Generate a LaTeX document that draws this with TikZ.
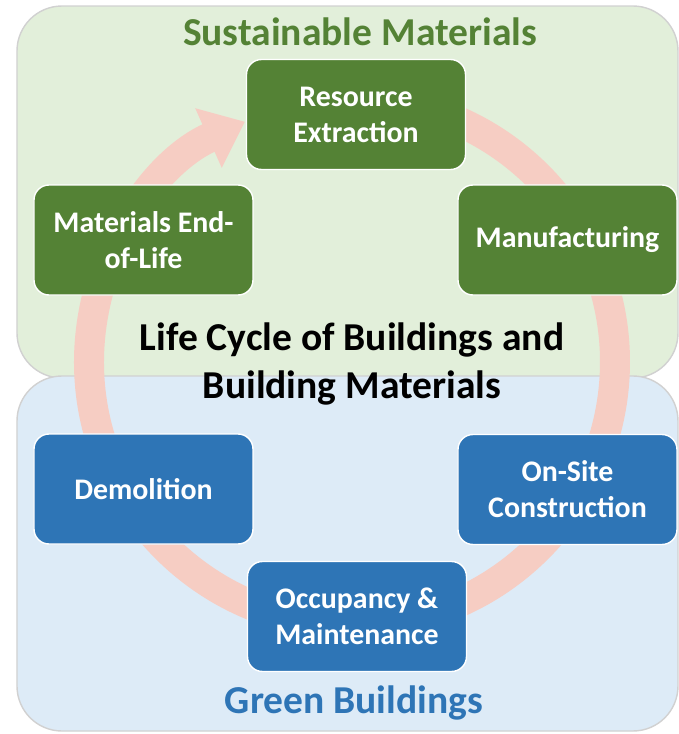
\documentclass[tikz,border=0pt]{standalone}
\usepackage{fontspec}
\setmainfont{Carlito}
\usepackage{tikz}
\usetikzlibrary{arrows.meta, positioning}

\definecolor{matgreen}{HTML}{548235}
\definecolor{matpanel}{HTML}{E2EFDA}
\definecolor{bldblue}{HTML}{2E75B6}
\definecolor{bldpanel}{HTML}{DDEBF7}
\definecolor{ringpink}{HTML}{F6CDC3}

\begin{document}
\begin{tikzpicture}[
    stage/.style={draw=white, line width=0.8pt, rounded corners=0.3cm,
                  minimum width=4.38cm, minimum height=2.2cm, text=white,
                  font=\fontsize{17}{20.5}\selectfont\bfseries, align=center, fill=#1},
    panel/.style={draw=black!18, line width=0.8pt, rounded corners=0.9cm, fill=#1},
    heading/.style={font=\fontsize{22.5}{27}\selectfont\bfseries, text=#1, align=center},
    ringarrow/.style={line width=0.6cm, color=ringpink,
                      -{Triangle[length=0.8cm, width=1.25cm]}}
]
\useasboundingbox (-7.04,-7.44) rectangle (6.54,7.24);

% Background panels
\draw[panel=matpanel] (-6.70,-0.32) rectangle (6.52,7.12);
\draw[panel=bldpanel] (-6.70,-7.38) rectangle (6.52,-0.28);

% Life cycle ring
\coordinate (ringstart) at (88:5.26);
\draw[ringarrow] (ringstart) arc[start angle=88, end angle=-246, radius=5.26];

% Material stages
\node[stage=matgreen] (res) at (0.08, 4.95) {Resource\\Extraction};
\node[stage=matgreen] (man) at (4.31, 2.44) {Manufacturing};
\node[stage=matgreen] (eol) at (-4.17, 2.44) {Materials End-\\of-Life};

% Building stages
\node[stage=bldblue] (dem) at (-4.17, -2.54) {Demolition};
\node[stage=bldblue] (ons) at (4.31, -2.55) {On-Site\\Construction};
\node[stage=bldblue] (occ) at (0.10, -5.09) {Occupancy \&\\Maintenance};

% Headings
\node[heading=matgreen] (sus) at (0.16, 6.60) {Sustainable Materials};
\node[heading=black] (life) at (0, -0.04) {Life Cycle of Buildings and\\Building Materials};
\node[heading=bldblue] (grn) at (0.04, -6.82) {Green Buildings};
\end{tikzpicture}
\end{document}
